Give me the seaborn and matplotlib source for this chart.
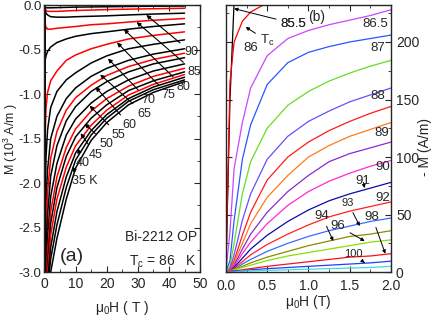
import numpy as np
import pandas as pd
import matplotlib
matplotlib.use("Agg")
import matplotlib.pyplot as plt
from matplotlib.ticker import MultipleLocator
import seaborn as sns

# ---- panel (a): M(H) at several temperatures ----
h_a = [0.05, 0.2, 0.5, 1, 2, 4, 7, 10, 15, 20, 27, 35, 45]
m_top1 = [0, -0.02, -0.03, -0.03, -0.03, -0.028, -0.025, -0.022, -0.02, -0.018, -0.015, -0.012, -0.01]
m_top2 = [0, -0.04, -0.06, -0.07, -0.07, -0.07, -0.065, -0.06, -0.055, -0.05, -0.045, -0.04, -0.035]
m90 = [0, -0.06, -0.09, -0.11, -0.13, -0.135, -0.135, -0.13, -0.125, -0.12, -0.11, -0.10, -0.09]
m85 = [0, -0.20, -0.26, -0.27, -0.27, -0.26, -0.25, -0.24, -0.22, -0.21, -0.19, -0.17, -0.15]
m80 = [0, -0.62, -0.57, -0.52, -0.47, -0.42, -0.38, -0.35, -0.32, -0.30, -0.27, -0.24, -0.21]
m75 = [0, -1.5, -1.15, -0.98, -0.85, -0.74, -0.62, -0.56, -0.49, -0.44, -0.38, -0.34, -0.30]
m70 = [0, -2.3, -1.7, -1.4, -1.15, -0.97, -0.84, -0.76, -0.65, -0.57, -0.49, -0.44, -0.39]
m65 = [0, -2.7, -2.2, -1.85, -1.5, -1.25, -1.05, -0.93, -0.80, -0.71, -0.62, -0.55, -0.49]
m62 = [0, -3.0, -2.5, -2.1, -1.72, -1.42, -1.18, -1.04, -0.90, -0.79, -0.69, -0.61, -0.54]
m60 = [0, -3.2, -2.75, -2.35, -1.92, -1.58, -1.30, -1.14, -0.97, -0.86, -0.75, -0.66, -0.59]
m55 = [0, -3.4, -3.0, -2.6, -2.15, -1.78, -1.46, -1.28, -1.10, -0.97, -0.84, -0.74, -0.66]
m52 = [0, -3.5, -3.15, -2.78, -2.32, -1.93, -1.60, -1.39, -1.19, -1.05, -0.91, -0.80, -0.71]
m50 = [0, -3.55, -3.25, -2.9, -2.45, -2.05, -1.70, -1.48, -1.27, -1.12, -0.96, -0.85, -0.75]
m47 = [0, -3.6, -3.35, -3.0, -2.58, -2.18, -1.82, -1.58, -1.35, -1.18, -1.01, -0.89, -0.78]
m45 = [0, -3.6, -3.4, -3.1, -2.72, -2.32, -1.93, -1.66, -1.41, -1.23, -1.05, -0.92, -0.81]
m40 = [0, -3.6, -3.45, -3.2, -2.85, -2.47, -2.05, -1.74, -1.46, -1.27, -1.08, -0.95, -0.84]
m35 = [0, -3.6, -3.5, -3.3, -3.0, -2.62, -2.18, -1.83, -1.52, -1.32, -1.12, -0.98, -0.86]

curves_a = [m_top1, m_top2, m90, m85, m80, m75, m70, m65, m62, m60, m55, m52, m50, m47, m45, m40, m35]
colors_a = ["k", "r", "k", "r", "k", "r", "k", "k", "r", "k", "k", "r", "k", "r", "k", "k", "k"]

# labels of panel (a): text, label position, arrow target
labels_a = ["90", "85", "80", "75", "70", "65", "60", "55", "50", "45", "40", "35 K"]
label_h = [47.2, 48.2, 44.7, 39.8, 33.3, 32.0, 27.4, 23.9, 19.8, 16.4, 12.3, 13.0]
label_m = [-0.53, -0.75, -0.92, -1.01, -1.07, -1.22, -1.35, -1.46, -1.56, -1.68, -1.77, -1.98]
head_h = [32.7, 29.6, 25.5, 23.3, 20.4, 17.9, 16.4, 14.5, 12.9, 11.6, 10.7, 8.8]
head_m = [-0.11, -0.19, -0.27, -0.42, -0.60, -0.78, -0.92, -1.13, -1.33, -1.44, -1.61, -1.82]

# ---- panel (b): -M(H) near Tc ----
h_b = [0.0, 0.05, 0.1, 0.2, 0.3, 0.5, 0.75, 1.0, 1.25, 1.5, 1.75, 2.0]
b855 = [0, 150, 235, 280, 300, 320, 335, 345, 355, 365, 375, 385]
b86 = [0, 165, 200, 218, 226, 234, 245, 255, 262, 270, 278, 285]
b865 = [0, 35, 90, 130, 160, 188, 203, 210, 215, 219, 223, 228]
b87 = [0, 10, 45, 98, 128, 163, 182, 191, 196, 200, 203, 206]
b875 = [0, 5, 25, 68, 96, 125, 145, 157, 166, 173, 179, 184]
b88 = [0, 3, 15, 45, 68, 98, 118, 131, 140, 148, 154, 160]
b885 = [0, 2, 10, 32, 52, 80, 100, 113, 123, 131, 138, 144]
b89 = [0, 2, 8, 25, 42, 65, 84, 100, 110, 118, 124, 130]
b895 = [0, 2, 6, 20, 33, 52, 70, 84, 96, 103, 108, 113]
b90 = [0, 2, 5, 16, 26, 42, 58, 70, 79, 86, 92, 97]
b91 = [0, 1, 4, 12, 20, 32, 44, 54, 62, 68, 73, 78]
b92 = [0, 1, 3, 9, 15, 24, 33, 41, 48, 53, 57, 61]
b93 = [0, 1, 2, 7, 11, 18, 25, 31, 36, 40, 44, 47]
b94 = [0, 1, 2, 5, 8, 13, 18, 23, 27, 31, 33, 36]
b96 = [0, 1, 2, 4, 6, 10, 14, 17, 20, 23, 26, 28]
b98 = [0, 1, 1, 2, 3, 5, 7, 9, 11, 13, 14, 16]
b100 = [0, 0, 1, 1, 2, 3, 4, 5, 6, 7, 8, 9.5]
b105 = [0, 0, 0, 1, 1, 1.5, 2, 2.5, 3, 3.5, 4, 5]

curves_b = [b855, b86, b865, b87, b875, b88, b885, b89, b895, b90,
            b91, b92, b93, b94, b96, b98, b100, b105]
colors_b = ["k", "#ff0000", "#c847ff", "#2a55ff", "#66dd22", "#6a4cff", "#ff1a1a", "#ff7a1a",
            "#8a2ad0", "#ff2ad0", "#0a0aa8", "#ff2020", "#3a6aff", "#8a8a00", "#88e000",
            "#ff1010", "#2040ff", "#40dcdc"]

labels_b = ["85.5", "86", "86.5", "87", "88", "89", "90", "92"]
lb_h = [0.82, 0.30, 1.81, 1.84, 1.84, 1.89, 1.90, 1.90]
lb_m = [216, 195, 216, 195, 153, 121, 91, 64]
arrow_b = ["85.5", "T$_c$", "91", "93", "94", "96", "98", "100"]
ab_h = [0.82, 0.50, 1.66, 1.48, 1.16, 1.36, 1.77, 1.54]
ab_m = [216, 201, 79, 60, 49, 40, 48, 16]
ab_head_h = [0.10, 0.24, 1.68, 1.62, 1.30, 1.68, 1.93, 1.68]
ab_head_m = [229, 213, 73, 40, 27, 27, 16, 8]

sns.set_style("ticks")
plt.rcParams["font.family"] = ["Liberation Sans", "DejaVu Sans"]
plt.rcParams["axes.unicode_minus"] = False
plt.rcParams["mathtext.default"] = "regular"

fig = plt.figure(figsize=(4.36, 3.22), dpi=100)
ax1 = fig.add_axes([0.102, 0.155, 0.357, 0.829])
ax2 = fig.add_axes([0.518, 0.155, 0.379, 0.829])

rows = []
for i, vals in enumerate(curves_a):
    for h, m in zip(h_a, vals):
        rows.append((i, h, m))
df_a = pd.DataFrame(rows, columns=["curve", "H", "M"])
sns.lineplot(data=df_a, x="H", y="M", hue="curve", palette=colors_a, estimator=None,
             sort=False, lw=1.1, legend=False, ax=ax1)

ax1.set_xlim(0, 50)
ax1.set_ylim(-3.0, 0.0)
ax1.xaxis.set_major_locator(MultipleLocator(10))
ax1.xaxis.set_minor_locator(MultipleLocator(5))
ax1.yaxis.set_major_locator(MultipleLocator(0.5))
ax1.yaxis.set_minor_locator(MultipleLocator(0.25))
ax1.yaxis.set_major_formatter(matplotlib.ticker.FormatStrFormatter("%.1f"))
ax1.set_xlabel("$\\mu_0$H ( T )", fontsize=10, labelpad=6)
ax1.set_ylabel("M (10$^3$ A/m )", fontsize=9)
ax1.yaxis.set_label_coords(-0.155, 0.5)

for t, lh, lm, hh, hm in zip(labels_a, label_h, label_m, head_h, head_m):
    ax1.annotate(t, xy=(hh, hm), xytext=(lh, lm), fontsize=9, ha="center", va="center",
                 arrowprops=dict(arrowstyle="-|>", color="k", lw=0.8, mutation_scale=6,
                                 shrinkA=1, shrinkB=0))
ax1.text(5, -2.87, "(a)", fontsize=14)
ax1.text(49, -2.61, "Bi-2212 OP", fontsize=10, ha="right", va="center")
ax1.text(49, -2.88, "T$_c$ = 86   K", fontsize=10, ha="right", va="center")

rows = []
for i, vals in enumerate(curves_b):
    for h, m in zip(h_b, vals):
        rows.append((i, h, m))
df_b = pd.DataFrame(rows, columns=["curve", "H", "M"])
sns.lineplot(data=df_b, x="H", y="M", hue="curve", palette=colors_b, estimator=None,
             sort=False, lw=0.9, legend=False, ax=ax2)

ax2.set_xlim(0, 2.0)
ax2.set_ylim(0, 232)
ax2.xaxis.set_major_locator(MultipleLocator(0.5))
ax2.xaxis.set_minor_locator(MultipleLocator(0.25))
ax2.yaxis.set_major_locator(MultipleLocator(50))
ax2.yaxis.set_minor_locator(MultipleLocator(25))
ax2.yaxis.set_label_position("right")
ax2.set_xlabel("$\\mu_0$H (T)", fontsize=10, labelpad=0)
ax2.set_ylabel("- M (A/m)", fontsize=10)
ax2.yaxis.set_label_coords(1.165, 0.47)

for t, lh, lm in zip(labels_b, lb_h, lb_m):
    ax2.text(lh, lm, t, fontsize=9.5, ha="center", va="center")
for t, lh, lm, hh, hm in zip(arrow_b, ab_h, ab_m, ab_head_h, ab_head_m):
    fs = 8 if t in ("93", "100") else 9.5
    ax2.annotate(t, xy=(hh, hm), xytext=(lh, lm), fontsize=fs, ha="center", va="center",
                 arrowprops=dict(arrowstyle="-|>", color="k", lw=0.7, mutation_scale=5,
                                 shrinkA=1, shrinkB=0))
ax2.text(1.1, 222, "(b)", fontsize=10, ha="center", va="center")

for ax in (ax1, ax2):
    ax.tick_params(which="both", direction="in", top=True, right=True, labelsize=10)
    ax.tick_params(which="major", length=4)
    ax.tick_params(which="minor", length=2)
    for s in ax.spines.values():
        s.set_linewidth(1.0)
ax1.tick_params(axis="y", pad=2, labelsize=9.5)
ax2.tick_params(axis="x", pad=5)
ax2.tick_params(axis="y", which="both", left=True, right=True, labelleft=False, labelright=True)

fig.savefig("out.png", dpi=100)
